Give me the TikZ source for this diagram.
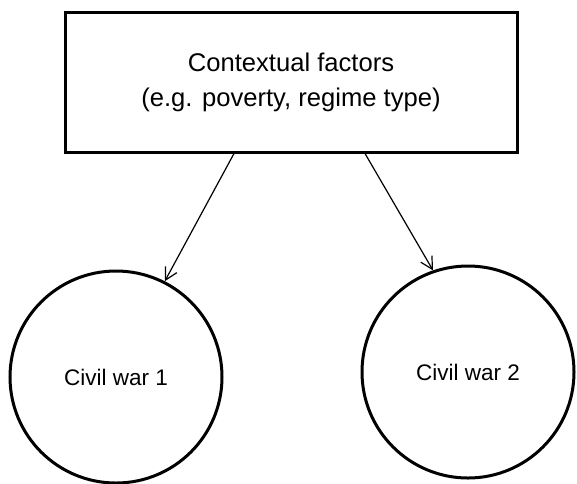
\documentclass[tikz,border=0pt]{standalone}
\usepackage{fontspec}
\setmainfont{Liberation Sans}
\usetikzlibrary{arrows.meta}
\tikzstyle{factors}=[rectangle,draw,line width=3pt,minimum width=452pt,minimum height=140pt,align=center,font=\fontsize{25.6}{35}\selectfont]
\tikzstyle{war}=[circle,draw,line width=3pt,minimum size=212pt,inner sep=0pt,font=\fontsize{22.5}{27}\selectfont]
\tikzstyle{link}=[line width=1.2pt,-{Straight Barb[length=12pt,width=13pt]}]

\begin{document}
\begin{tikzpicture}[x=1pt,y=-1pt]
\useasboundingbox (0,0) rectangle (577,483);
\node[factors] at (291, 82) (ctx) {Contextual factors\\(e.g. poverty, regime type)};
\node[war] at (116, 377) (cw1) {Civil war 1};
\node[war] at (468, 372) (cw2) {Civil war 2};
\draw[link] ([xshift=-57pt]ctx.south) -- (cw1.63);
\draw[link] ([xshift=74pt]ctx.south) -- (cw2.109);
\end{tikzpicture}
\end{document}
